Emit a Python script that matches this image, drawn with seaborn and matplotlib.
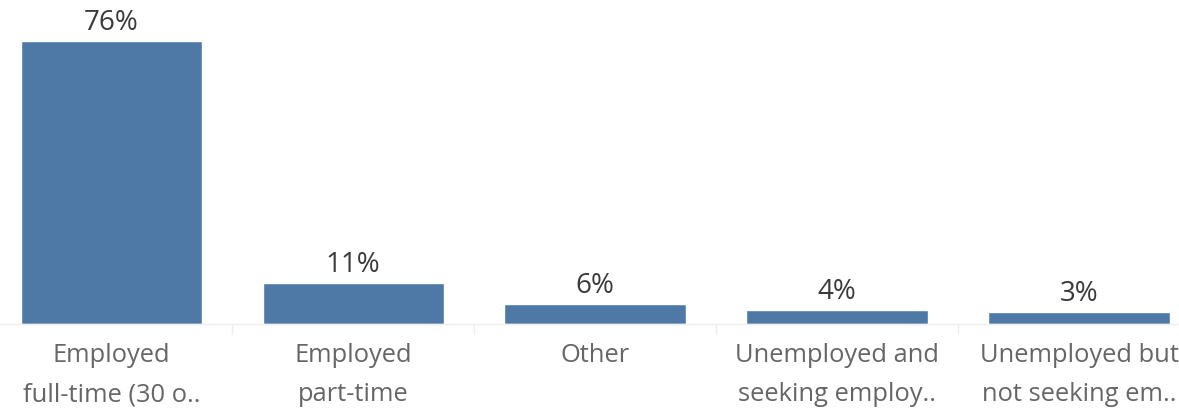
import matplotlib
matplotlib.use("Agg")
import matplotlib.pyplot as plt
import seaborn as sns
import pandas as pd

categories = ["Employed\nfull-time (30 o..", "Employed\npart-time", "Other",
              "Unemployed and\nseeking employ..", "Unemployed but\nnot seeking em.."]
values = [76.0, 11.0, 5.4, 3.8, 3.2]
labels = ["76%", "11%", "6%", "4%", "3%"]

sns.set_theme(style="white")
plt.rcParams['font.family'] = ['Open Sans', 'DejaVu Sans']

df = pd.DataFrame({"cat": categories, "val": values})
fig = plt.figure(figsize=(11.79, 4.10), dpi=100)
ax = fig.add_axes([0, 85/410, 1, 325/410])
sns.barplot(data=df, x="cat", y="val", color="#4e79a7", width=0.75, saturation=1, ax=ax)
ax.set_xlim(-0.46, 4.413)
ax.set_ylim(0, 87.3)
for i, (v, t) in enumerate(zip(values, labels)):
    ax.annotate(t, (i, v), xytext=(0, 8.6), textcoords="offset points",
                ha="center", va="baseline", fontsize=20, color="#3a3a3a")
for s in ["top", "right", "left"]:
    ax.spines[s].set_visible(False)
ax.spines["bottom"].set_color("#eeeeee")
ax.spines["bottom"].set_linewidth(1)
ax.set_yticks([])
ax.set_xlabel("")
ax.set_ylabel("")
ax.set_xticks(range(len(categories)))
ax.set_xticklabels(categories, fontsize=18.4, color="#666666", linespacing=1.75)
ax.tick_params(axis="x", length=0, pad=13)
for b in [0.5, 1.5, 2.5, 3.5]:
    ax.plot([b, b], [0, -2.8], color="#eeeeee", lw=1, clip_on=False)
fig.savefig("out.png", dpi=100)
